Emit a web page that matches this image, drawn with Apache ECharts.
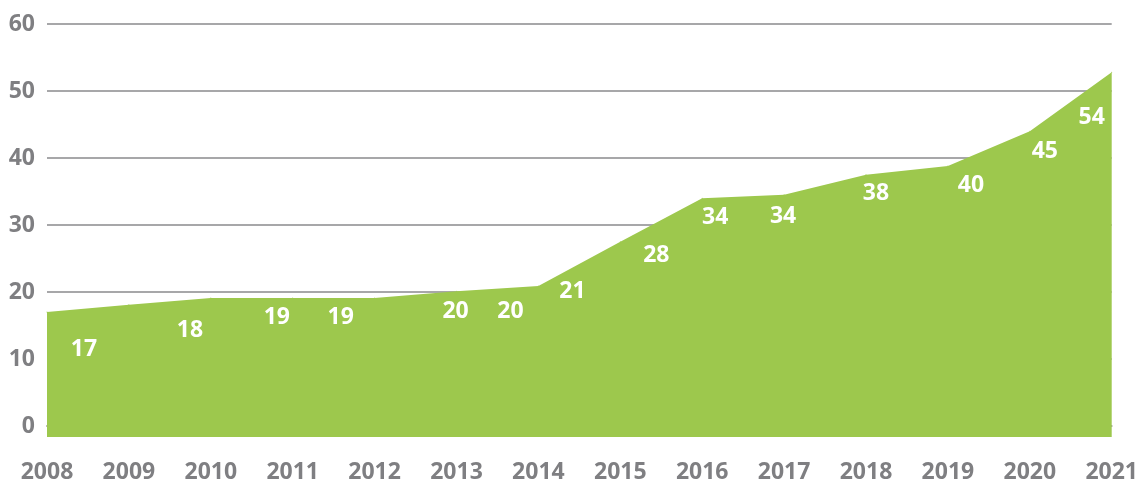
<!DOCTYPE html>
<html>
<head>
<meta charset="utf-8">
<title>chart</title>
<script src="https://cdn.jsdelivr.net/npm/echarts@6/dist/echarts.min.js"></script>
<style>
  html, body { margin: 0; padding: 0; background: #fff; }
  #chart { width: 1141px; height: 484px; }
</style>
</head>
<body>
<div id="chart"></div>
<script>
// years on the x axis
const years = ['2008', '2009', '2010', '2011', '2012', '2013', '2014', '2015', '2016', '2017', '2018', '2019', '2020', '2021'];
// printed values
const labelValues = [17, 18, 19, 19, 20, 20, 21, 28, 34, 34, 38, 40, 45, 54];
// height of the green area at each year
const areaValues = [17, 18.1, 19.1, 19.1, 19.1, 20.1, 20.9, 27.5, 34, 34.5, 37.5, 38.8, 44, 52.8];
// y tick labels
const yTicks = [0, 10, 20, 30, 40, 50, 60];

// where each printed value sits relative to its point (px)
const labelShift = [[37, 37], [61, 26], [66, 19], [48, 19], [81, 13], [54, 20], [34, 5],
  [36, 14], [13, 19], [-1, 22], [10, 19], [23, 19], [15, 20], [-20, 45]];

const green = '#9dc84d';
const grey = '#7f7f82';

const chart = echarts.init(document.getElementById('chart'));

const option = {
  animation: false,
  textStyle: { fontFamily: 'Open Sans' },
  grid: { left: 47, right: 26, top: 24, bottom: 47, containLabel: false },
  xAxis: {
    type: 'category',
    data: years,
    boundaryGap: false,
    axisLine: { show: true, lineStyle: { color: '#a7a7a9', width: 2 } },
    axisTick: { show: false },
    axisLabel: { color: grey, fontSize: 23, fontWeight: 'bold', margin: 24, interval: 0 },
    splitLine: { show: false },
  },
  yAxis: {
    type: 'value',
    min: -1.64,
    max: 60,
    axisLine: { show: false },
    axisTick: { show: false, customValues: yTicks },
    axisLabel: { color: grey, fontSize: 23, fontWeight: 'bold', margin: 12, customValues: yTicks },
    splitLine: { show: true, lineStyle: { color: '#a7a7a9', width: 2 } },
  },
  series: [
    {
      type: 'line',
      data: areaValues.map((v, i) => ({
        value: v,
        label: { offset: labelShift[i] },
      })),
      symbol: 'circle',
      symbolSize: 1,
      itemStyle: { color: green },
      lineStyle: { width: 0 },
      areaStyle: { color: green, opacity: 1, origin: 'start' },
      label: {
        show: true,
        position: 'inside',
        align: 'center',
        verticalAlign: 'middle',
        color: '#ffffff',
        fontSize: 23,
        fontWeight: 'bold',
        fontFamily: 'Open Sans',
        formatter: (p) => labelValues[p.dataIndex],
      },
      emphasis: { disabled: true },
      z: 3,
    },
  ],
};

chart.setOption(option);
</script>
</body>
</html>
